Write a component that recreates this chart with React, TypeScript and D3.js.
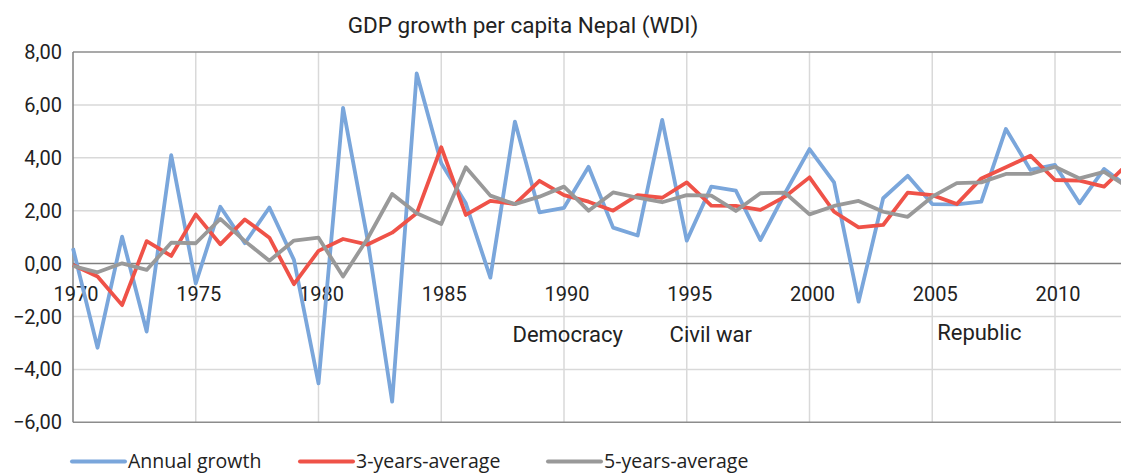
import React from "react";
import * as d3 from "d3";

const years: number[] = d3.range(1970, 2014);
const annualGrowth: number[] = [
  0.58, -3.18, 1.02, -2.57, 4.1, -0.75, 2.15, 0.77, 2.12, 0.14,
  -4.53, 5.89, 0.9, -5.22, 7.19, 3.79, 2.28, -0.53, 5.37, 1.94,
  2.11, 3.66, 1.36, 1.06, 5.43, 0.87, 2.91, 2.76, 0.89, 2.66,
  4.33, 3.07, -1.44, 2.47, 3.32, 2.25, 2.24, 2.34, 5.09, 3.54,
  3.73, 2.28, 3.58, 2.88,
];
const avg3: number[] = [
  -0.05, -0.49, -1.57, 0.85, 0.29, 1.86, 0.73, 1.67, 0.98, -0.78,
  0.48, 0.93, 0.72, 1.17, 1.9, 4.4, 1.84, 2.37, 2.25, 3.13,
  2.59, 2.34, 2.0, 2.59, 2.49, 3.07, 2.19, 2.18, 2.03, 2.53,
  3.26, 1.96, 1.37, 1.46, 2.68, 2.59, 2.25, 3.22, 3.64, 4.08,
  3.16, 3.14, 2.91, 3.8,
];
const avg5: number[] = [
  -0.09, -0.33, 0.01, -0.24, 0.79, 0.77, 1.69, 0.85, 0.11, 0.87,
  0.98, -0.49, 0.95, 2.63, 1.9, 1.5, 3.64, 2.57, 2.25, 2.53,
  2.91, 2.0, 2.69, 2.49, 2.32, 2.59, 2.57, 1.99, 2.66, 2.68,
  1.86, 2.18, 2.37, 1.96, 1.77, 2.53, 3.04, 3.07, 3.39, 3.39,
  3.66, 3.22, 3.47, 2.87,
];
const yTicks: number[] = [-6, -4, -2, 0, 2, 4, 6, 8];
const xTicks: number[] = [1970, 1975, 1980, 1985, 1990, 1995, 2000, 2005, 2010];
const annotations = [
  { label: "Democracy", year: 1987.9, value: -2.97 },
  { label: "Civil war", year: 1994.3, value: -2.97 },
  { label: "Republic", year: 2005.2, value: -2.88 },
];
const series = [
  { name: "Annual growth", values: annualGrowth, color: "#7aa6db" },
  { name: "3-years-average", values: avg3, color: "#ef5248" },
  { name: "5-years-average", values: avg5, color: "#999999" },
];

const W = 1121;
const H = 473;
const FONT = "Roboto, 'Noto Sans', sans-serif";

export default function App() {
  const x = d3.scaleLinear().domain([1970, 2013]).range([73, 73 + 43 * 24.55]);
  const y = d3.scaleLinear().domain([-6, 8]).range([422.3, 52]);
  const line = d3
    .line<number>()
    .x((_, i) => x(years[i]))
    .y((d) => y(d));
  const x0 = x(1970);
  const legendX = [72, 300, 548];

  return (
    <svg
      width={W}
      height={H}
      style={{ position: "absolute", left: 0, top: 0, background: "#fff" }}
      fontFamily={FONT}
    >
      <defs>
        <clipPath id="plotclip">
          <rect x={0} y={0} width={W} height={H} />
        </clipPath>
      </defs>
      <text x={523} y={33} textAnchor="middle" fontSize={22.5} fill="#222">
        GDP growth per capita Nepal (WDI)
      </text>
      {/* grid */}
      {xTicks.slice(1).map((t) => (
        <line key={"vx" + t} x1={x(t)} x2={x(t)} y1={y(8)} y2={y(-6)} stroke="#d9d9d9" strokeWidth={1.5} />
      ))}
      {yTicks.filter((t) => t !== 0 && t !== 8 && t !== -6).map((t) => (
        <line key={"hy" + t} x1={x0} x2={W} y1={y(t)} y2={y(t)} stroke="#d9d9d9" strokeWidth={1.5} />
      ))}
      <line x1={x0} x2={W} y1={y(8)} y2={y(8)} stroke="#8c8c8c" strokeWidth={1.5} />
      <line x1={x0} x2={W} y1={y(-6)} y2={y(-6)} stroke="#8c8c8c" strokeWidth={1.5} />
      <line x1={x0} x2={W} y1={y(0)} y2={y(0)} stroke="#7f7f7f" strokeWidth={1.5} />
      <line x1={x0} x2={x0} y1={y(8)} y2={y(-6)} stroke="#7f7f7f" strokeWidth={1.5} />
      {/* y labels */}
      {yTicks.map((t) => (
        <text key={"yl" + t} x={62} y={y(t)} dy="0.35em" textAnchor="end" fontSize={20} fill="#222">
          {d3.format(".2f")(t).replace(".", ",")}
        </text>
      ))}
      {/* x labels */}
      {xTicks.map((t) => (
        <text key={"xl" + t} x={x(t) + 3} y={301} textAnchor="middle" fontSize={20} fill="#222">
          {t}
        </text>
      ))}
      {/* series */}
      <g clipPath="url(#plotclip)">
        {series.map((s) => (
          <path
            key={s.name}
            d={line(s.values) || ""}
            fill="none"
            stroke={s.color}
            strokeWidth={3.8}
            strokeLinejoin="round"
          />
        ))}
      </g>
      {/* annotations */}
      {annotations.map((a) => (
        <text key={a.label} x={x(a.year)} y={y(a.value)} fontSize={22} fill="#222">
          {a.label}
        </text>
      ))}
      {/* legend */}
      {series.map((s, i) => (
        <g key={"lg" + s.name}>
          <line x1={legendX[i]} x2={legendX[i] + 53} y1={461.5} y2={461.5} stroke={s.color} strokeWidth={4} strokeLinecap="round" />
          <text
            x={legendX[i] + 56}
            y={461.5}
            dy="0.35em"
            fontSize={19.5}
            fill="#222"
            fontFamily="'Open Sans', 'Noto Sans', sans-serif"
          >
            {s.name}
          </text>
        </g>
      ))}
    </svg>
  );
}
